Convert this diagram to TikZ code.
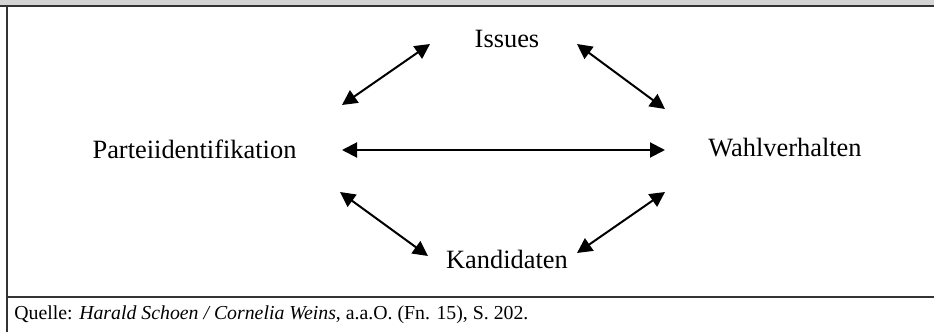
\documentclass[tikz,border=0pt]{standalone}
\usepackage{fontspec}
\setmainfont{Liberation Serif}
\usepackage{tikz}
\usetikzlibrary{positioning,arrows.meta,calc}

\definecolor{bandgray}{HTML}{D4D4D4}
\definecolor{framegray}{HTML}{333333}

\tikzset{
  concept/.style={anchor=base, inner sep=0pt, font=\fontsize{13.2}{16}\selectfont},
  biarrow/.style={{Triangle[length=7.5pt,width=7.5pt]}-{Triangle[length=7.5pt,width=7.5pt]}, line width=1pt},
  frameline/.style={draw=framegray, line width=1pt}
}

\begin{document}
\begin{tikzpicture}[x=0.5pt,y=-0.5pt]

  \useasboundingbox (0,0) rectangle (934,332);

  % frame
  \fill[bandgray] (0,0) rectangle (934,6);
  \draw[frameline] (0,6) -- (934,6);
  \draw[framegray, line width=0.8pt] (7,6) -- (7,332);
  \draw[frameline] (7,297) -- (934,297);

  \node[concept] (issues) at (507,47) {Issues};
  \node[concept] (partei) at (194.5,158) {Parteiidentifikation};
  \node[concept] (wahl) at (785,156) {Wahlverhalten};
  \node[concept] (kand) at (507,268) {Kandidaten};

  \coordinate (iss-l) at (430,44);
  \coordinate (iss-r) at (577,44);
  \coordinate (par-t) at (342,105);
  \coordinate (par-b) at (340,192);
  \coordinate (wah-t) at (665,109);
  \coordinate (wah-b) at (665,192);
  \coordinate (kan-l) at (428,256);
  \coordinate (kan-r) at (577,253);
  \coordinate (par-m) at (342,150);
  \coordinate (wah-m) at (665,150);

  \draw[biarrow] (par-t) -- (iss-l);
  \draw[biarrow] (iss-r) -- (wah-t);
  \draw[biarrow] (par-m) -- (wah-m);
  \draw[biarrow] (par-b) -- (kan-l);
  \draw[biarrow] (kan-r) -- (wah-b);

  \node[anchor=base west, inner sep=0pt, font=\fontsize{9.9}{12}\selectfont] (quelle) at (14,319)
    {Quelle: \textit{Harald Schoen / Cornelia Weins}, a.a.O. (Fn. 15), S. 202.};

\end{tikzpicture}
\end{document}
